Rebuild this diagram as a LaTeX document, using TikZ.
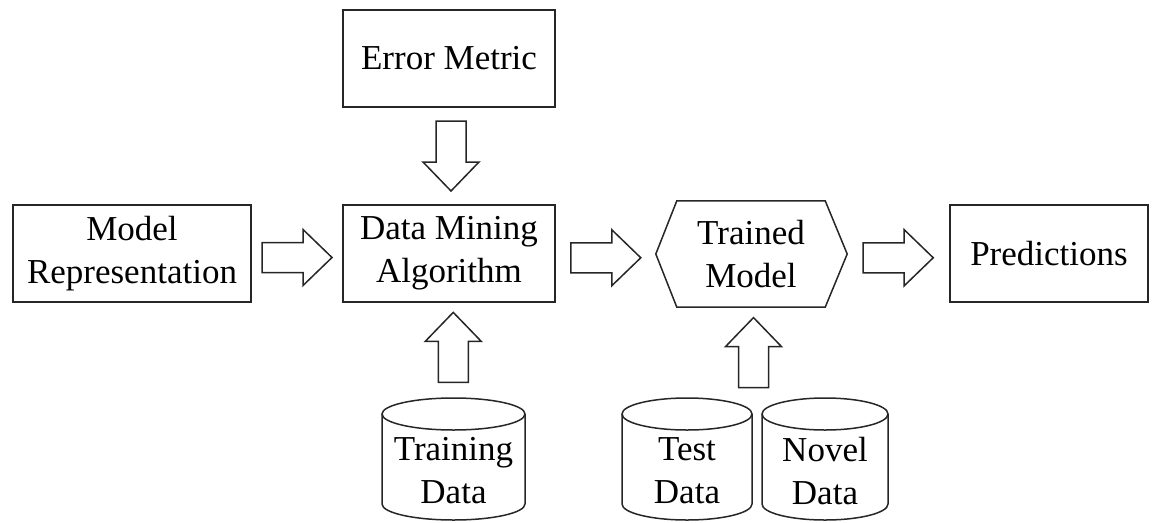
\documentclass[tikz,border=0pt]{standalone}
\usepackage{fontspec}
\setmainfont{Liberation Serif}
\usetikzlibrary{calc}
\newcommand\dbcyl[4]{% name, center x, half width, text
  \node[lbl] (#1) at (#2,471) {#4};
  \coordinate (#1top) at (#2,398);
  \draw[line] ({#2-#3},414) -- ({#2-#3},504)
     arc[start angle=180,end angle=0,x radius=#3,y radius=16] -- ({#2+#3},414);
  \draw[line] (#2,414) ellipse[x radius=#3,y radius=16];
}
\begin{document}
\begin{tikzpicture}[x=1pt,y=-1pt,
  line/.style={draw=black!85,line width=1.5pt,line join=miter},
  lbl/.style={inner sep=0pt,align=center,font=\fontsize{35}{43}\selectfont},
  box/.style={lbl,line,rectangle},
  pics/barrow/.style={code={
    \draw[line] (-35,-15) -- (6,-15) -- (6,-28) -- (35,0) -- (6,28) -- (6,15) -- (-35,15) -- cycle;}}
]
\useasboundingbox (0,0) rectangle (1158,522);

% boxes
\node[box,minimum width=212pt,minimum height=97pt] (err)   at (449,58.5)  {Error Metric};
\node[box,minimum width=212pt,minimum height=97pt] (dma)   at (449,253.5) {Data Mining\\Algorithm};
\node[box,minimum width=238pt,minimum height=97pt] (model) at (132,253.5) {Model\\Representation};
\node[box,minimum width=198pt,minimum height=97pt] (pred)  at (1049,253.5) {Predictions};

% hexagon (trained model)
\node[lbl,minimum width=148pt,minimum height=106pt] (trained) at (751,254) {Trained\\Model};
\coordinate (hexW) at ($(trained.west)+(-21,0)$);
\coordinate (hexE) at ($(trained.east)+(22,0)$);
\draw[line] (trained.north west) -- (trained.north east) -- (hexE) -- (trained.south east)
  -- (trained.south west) -- (hexW) -- cycle;

% databases
\dbcyl{train}{453.5}{71.5}{Training\\Data}
\dbcyl{test}{687}{65}{Test\\Data}
\dbcyl{novel}{825}{63}{Novel\\Data}
\coordinate (tnTop) at ($(testtop)!0.5!(noveltop)$);

% block arrows
\coordinate (m1) at ($(model.east)!0.5!(dma.west)$);
\coordinate (m2) at ($(dma.east)!0.5!(hexW)$);
\coordinate (m3) at ($(hexE)!0.5!(pred.west)$);
\coordinate (m4) at ($(err.south)!0.5!(dma.north)$);
\coordinate (m5) at ($(traintop)!0.5!(dma.south)$);
\coordinate (m6) at ($(tnTop)!0.5!(trained.south)$);
\pic at ($(m1)+(0,4)$) {barrow};
\pic at ($(m2)+(0,4)$) {barrow};
\pic at ($(m3)+(0,4)$) {barrow};
\pic[rotate=-90] at ($(m4)+(2,0)$) {barrow};
\pic[rotate=90] at ($(m5)+(2,-3)$) {barrow};
\pic[rotate=90] at (m6) {barrow};
\end{tikzpicture}
\end{document}
